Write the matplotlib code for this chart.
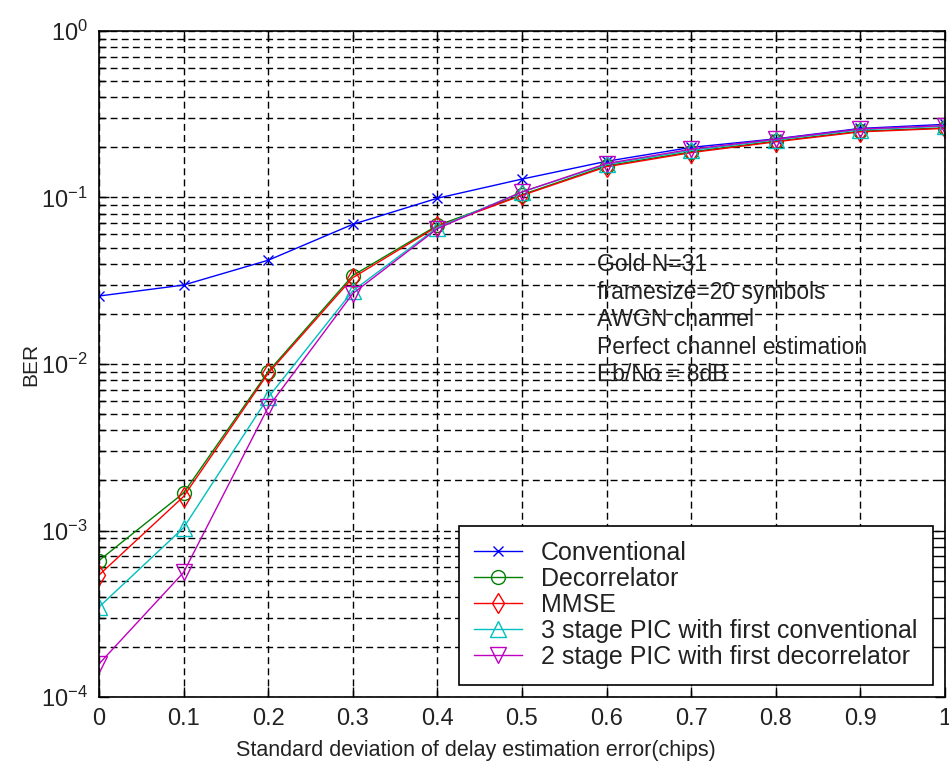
import matplotlib
matplotlib.use("Agg")
import matplotlib.pyplot as plt
from matplotlib.ticker import LogLocator, NullFormatter

plt.rcParams['font.family'] = ['Liberation Sans', 'DejaVu Sans']

# delay estimation error std (chips)
sigma = [0, 0.1, 0.2, 0.3, 0.4, 0.5, 0.6, 0.7, 0.8, 0.9, 1.0]
x_labels = ['0', '0.1', '0.2', '0.3', '0.4', '0.5', '0.6', '0.7', '0.8', '0.9', '1']

ber_conv = [0.0256, 0.0298, 0.042, 0.069, 0.099, 0.129, 0.165, 0.200, 0.225, 0.260, 0.275]
ber_decorr = [0.00066, 0.00168, 0.0090, 0.034, 0.068, 0.104, 0.155, 0.188, 0.218, 0.250, 0.262]
ber_mmse = [0.00054, 0.00160, 0.0088, 0.033, 0.067, 0.103, 0.153, 0.186, 0.216, 0.248, 0.260]
ber_pic3 = [0.000347, 0.00104, 0.0063, 0.0275, 0.066, 0.108, 0.158, 0.192, 0.222, 0.255, 0.268]
ber_pic2 = [0.000158, 0.00056, 0.0055, 0.0265, 0.065, 0.108, 0.160, 0.195, 0.224, 0.258, 0.270]

names = ['Conventional', 'Decorrelator', 'MMSE',
         '3 stage PIC with first conventional',
         '2 stage PIC with first decorrelator']

notes = ['Gold N=31', 'framesize=20 symbols', 'AWGN channel',
         'Perfect channel estimation', 'Eb/No = 8dB']

fig = plt.figure(figsize=(9.49, 7.69), dpi=100)
ax = fig.add_axes([0.1043, 0.0936, 0.8915, 0.8661])

series = [ber_conv, ber_decorr, ber_mmse, ber_pic3, ber_pic2]
colors = ['#0000ff', '#008000', '#ff0000', '#00bfbf', '#bf00bf']
markers = ['x', 'o', 'd', '^', 'v']
sizes = [7, 10, 10, 11, 11]

for y, c, m, ms, name in zip(series, colors, markers, sizes, names):
    ax.semilogy(sigma, y, color=c, marker=m, markersize=ms, markerfacecolor='none',
                markeredgewidth=1.0, linewidth=1.0, label=name)

ax.set_xlim(0, 1)
ax.set_ylim(1e-4, 1)
ax.set_xticks(sigma)
ax.set_xticklabels(x_labels)
ax.yaxis.set_major_locator(LogLocator(base=10, numticks=10))
ax.yaxis.set_minor_locator(LogLocator(base=10, subs=range(2, 10), numticks=20))
ax.yaxis.set_minor_formatter(NullFormatter())

ax.grid(True, which='major', color='black', linestyle=(0, (5, 3)), linewidth=1.0)
ax.grid(True, which='minor', axis='y', color='black', linestyle=(0, (5, 3)), linewidth=1.0)
ax.tick_params(which='both', direction='in', top=True, right=True, labelsize=17,
               width=1.0, labelcolor='#222222')
ax.tick_params(which='major', length=7, pad=8)
ax.tick_params(which='minor', length=4)
for s in ax.spines.values():
    s.set_linewidth(1.2)

ax.set_xlabel('Standard deviation of delay estimation error(chips)', fontsize=15.5,
              labelpad=8, color='#222222')
ax.xaxis.set_label_coords(0.446, -0.065)
ax.set_ylabel('BER', fontsize=15, labelpad=0, color='#222222')
ax.yaxis.set_label_coords(-0.07, 0.5)

for i, line in enumerate(notes):
    ax.text(0.589, 0.649 - i * 0.0413, line, transform=ax.transAxes,
            fontsize=16.5, va='center', ha='left', color='#222222')

leg = ax.legend(loc='lower right', fontsize=18, fancybox=False, edgecolor='black',
                framealpha=1, borderaxespad=0.5, handlelength=1.9,
                handletextpad=0.75, labelspacing=0.08, borderpad=0.62)
leg.get_frame().set_linewidth(1.2)
for t in leg.get_texts():
    t.set_color('#222222')

fig.savefig('out.png', dpi=100, facecolor='white')
